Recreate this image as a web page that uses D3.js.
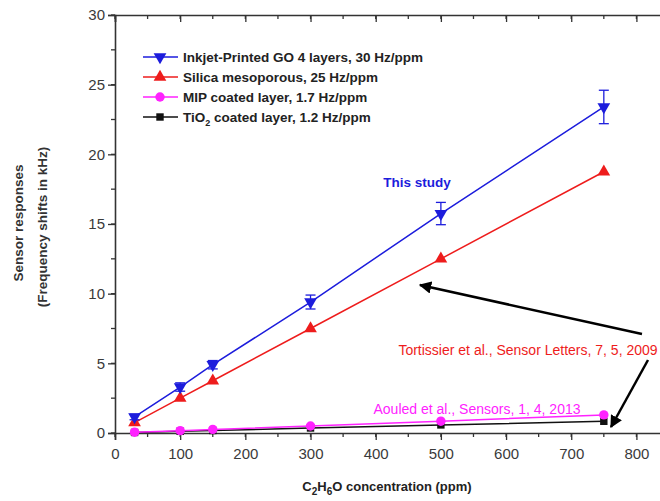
<!DOCTYPE html>
<html>
<head>
<meta charset="utf-8">
<script src="https://cdn.jsdelivr.net/npm/d3@7"></script>
<style>
  body { margin: 0; background: #fff; }
  text { font-family: "Liberation Sans", Arial, sans-serif; }
</style>
</head>
<body>
<script>
// Set up size
var width = 660;
var height = 501;

// data
var concentrations = [30, 100, 150, 300, 500, 750];
var goValues = [1.15, 3.3, 4.9, 9.4, 15.75, 23.4];
var goErrors = [0.2, 0.3, 0.3, 0.5, 0.8, 1.2];
var silicaValues = [0.75, 2.5, 3.75, 7.5, 12.5, 18.75];
var mipValues = [0.06, 0.17, 0.26, 0.5, 0.85, 1.3];
var tioValues = [0.04, 0.12, 0.18, 0.36, 0.58, 0.84];
var xTicks = [0, 100, 200, 300, 400, 500, 600, 700, 800];
var yTicks = [0, 5, 10, 15, 20, 25, 30];

var series = [
  { name: "TiO", sub: "2", rest: " coated layer, 1.2 Hz/ppm", values: tioValues, color: "#111111", symbol: d3.symbolSquare, size: 55 },
  { name: "MIP coated layer, 1.7 Hz/ppm", values: mipValues, color: "#ff22ff", symbol: d3.symbolCircle, size: 70 },
  { name: "Silica mesoporous, 25 Hz/ppm", values: silicaValues, color: "#ee1c1c", symbol: d3.symbolTriangle, size: 70 },
  { name: "Inkjet-Printed GO 4 layers, 30 Hz/ppm", values: goValues, errors: goErrors, color: "#1c1cdc", symbol: d3.symbolTriangle, size: 70, flip: true }
];

var svg = d3.select('body').append('svg')
  .attr('width', width)
  .attr('height', height);

// scales
var x = d3.scaleLinear().domain([0, 850]).range([115, 669]);
var y = d3.scaleLinear().domain([0, 30]).range([433, 15]);

var axisColor = "#333";

svg.append('defs').append('marker')
  .attr('id', 'arrowHead')
  .attr('viewBox', '0 0 10 10')
  .attr('refX', 9).attr('refY', 5)
  .attr('markerWidth', 5).attr('markerHeight', 5)
  .attr('markerUnits', 'strokeWidth')
  .attr('orient', 'auto')
  .append('path')
  .attr('d', 'M0,0 L10,5 L0,10 Z')
  .attr('fill', '#000');

// axes
var xMinor = d3.range(0, 851, 50);
var yMinor = d3.range(0, 30.1, 2.5);

var bottomAxis = svg.append('g')
  .attr('transform', 'translate(0,' + y(0) + ')')
  .call(d3.axisBottom(x).tickValues(xTicks).tickSize(7).tickPadding(8).tickFormat(d3.format('d')));
bottomAxis.append('g').selectAll('line').data(xMinor).join('line')
  .attr('x1', d => x(d)).attr('x2', d => x(d)).attr('y1', 0).attr('y2', 4);

var leftAxis = svg.append('g')
  .attr('transform', 'translate(' + x(0) + ',0)')
  .call(d3.axisLeft(y).tickValues(yTicks).tickSize(7).tickPadding(3).tickFormat(d3.format('d')));
leftAxis.append('g').selectAll('line').data(yMinor).join('line')
  .attr('x1', 0).attr('x2', -4).attr('y1', d => y(d)).attr('y2', d => y(d));

var topAxis = svg.append('g')
  .attr('transform', 'translate(0,' + y(30) + ')')
  .call(d3.axisBottom(x).tickValues(xTicks).tickSize(7).tickFormat(''));
topAxis.append('g').selectAll('line').data(xMinor).join('line')
  .attr('x1', d => x(d)).attr('x2', d => x(d)).attr('y1', 0).attr('y2', 4);

[bottomAxis, leftAxis, topAxis].forEach(function(g) {
  g.select('.domain').attr('stroke', axisColor).attr('stroke-width', 1.6);
  g.selectAll('line').attr('stroke', axisColor).attr('stroke-width', 1.3);
  g.selectAll('text').attr('fill', '#3a3a3a').style('font-size', '15px')
    .style('font-family', '"Liberation Sans", Arial, sans-serif');
});

// axis titles
var xt = svg.append('text')
  .attr('x', 387).attr('y', 491)
  .attr('text-anchor', 'middle')
  .attr('font-size', 13).attr('font-weight', 'bold').attr('fill', '#222');
xt.append('tspan').text('C');
xt.append('tspan').text('2').attr('font-size', 10).attr('dy', 4);
xt.append('tspan').text('H').attr('dy', -4);
xt.append('tspan').text('6').attr('font-size', 10).attr('dy', 4);
xt.append('tspan').text('O concentration (ppm)').attr('dy', -4);

svg.append('text')
  .attr('transform', 'translate(23,223) rotate(-90)')
  .attr('text-anchor', 'middle')
  .attr('font-size', 13.5).attr('font-weight', 'bold').attr('fill', '#333')
  .text('Sensor responses');
svg.append('text')
  .attr('transform', 'translate(47,227) rotate(-90)')
  .attr('text-anchor', 'middle')
  .attr('font-size', 13.5).attr('font-weight', 'bold').attr('fill', '#333')
  .text('(Frequency shifts in kHz)');

// series
var line = d3.line()
  .x((d, i) => x(concentrations[i]))
  .y(d => y(d));

series.forEach(function(s) {
  var g = svg.append('g');
  g.append('path')
    .attr('d', line(s.values))
    .attr('fill', 'none')
    .attr('stroke', s.color)
    .attr('stroke-width', 1.5);

  if (s.errors) {
    var eb = g.selectAll('.err').data(s.values).join('g');
    eb.append('line')
      .attr('x1', (d, i) => x(concentrations[i])).attr('x2', (d, i) => x(concentrations[i]))
      .attr('y1', (d, i) => y(d + s.errors[i])).attr('y2', (d, i) => y(d - s.errors[i]))
      .attr('stroke', s.color).attr('stroke-width', 1.3);
    [1, -1].forEach(function(sign) {
      eb.append('line')
        .attr('x1', (d, i) => x(concentrations[i]) - 5).attr('x2', (d, i) => x(concentrations[i]) + 5)
        .attr('y1', (d, i) => y(d + sign * s.errors[i])).attr('y2', (d, i) => y(d + sign * s.errors[i]))
        .attr('stroke', s.color).attr('stroke-width', 1.3);
    });
  }

  g.selectAll('.pt').data(s.values).join('path')
    .attr('d', d3.symbol().type(s.symbol).size(s.size))
    .attr('transform', (d, i) => 'translate(' + x(concentrations[i]) + ',' + y(d) + ')' + (s.flip ? ' rotate(180)' : ''))
    .attr('fill', s.color);
});

// legend
var legendRows = series.slice().reverse();
var legend = svg.append('g');
legendRows.forEach(function(s, i) {
  var ly = 57 + i * 20;
  legend.append('line')
    .attr('x1', 143).attr('x2', 178).attr('y1', ly).attr('y2', ly)
    .attr('stroke', s.color).attr('stroke-width', 1.5);
  legend.append('path')
    .attr('d', d3.symbol().type(s.symbol).size(s.size)())
    .attr('transform', 'translate(160,' + ly + ')' + (s.flip ? ' rotate(180)' : ''))
    .attr('fill', s.color);
  var t = legend.append('text')
    .attr('x', 183).attr('y', ly + 4.5)
    .attr('font-size', 13.5).attr('font-weight', 'bold').attr('fill', '#222');
  if (s.sub) {
    t.append('tspan').text(s.name);
    t.append('tspan').text(s.sub).attr('font-size', 9).attr('dy', 4);
    t.append('tspan').text(s.rest).attr('dy', -4);
  } else {
    t.text(s.name);
  }
});

// annotations
svg.append('text')
  .attr('x', 417).attr('y', 187)
  .attr('text-anchor', 'middle')
  .attr('font-size', 13.5).attr('font-weight', 'bold').attr('fill', '#1c1cdc')
  .text('This study');

svg.append('text')
  .attr('x', 528).attr('y', 355)
  .attr('text-anchor', 'middle')
  .attr('font-size', 14).attr('fill', '#ee1c1c')
  .text('Tortissier et al., Sensor Letters, 7, 5, 2009');

svg.append('text')
  .attr('x', 477).attr('y', 414)
  .attr('text-anchor', 'middle')
  .attr('font-size', 14).attr('fill', '#ff22ff')
  .text('Aouled et al., Sensors, 1, 4, 2013');

svg.append('line')
  .attr('x1', 642).attr('y1', 334).attr('x2', 420).attr('y2', 285)
  .attr('stroke', '#000').attr('stroke-width', 2.5)
  .attr('marker-end', 'url(#arrowHead)');
svg.append('line')
  .attr('x1', 648).attr('y1', 360).attr('x2', 611).attr('y2', 427)
  .attr('stroke', '#000').attr('stroke-width', 2.5)
  .attr('marker-end', 'url(#arrowHead)');
</script>
</body>
</html>
